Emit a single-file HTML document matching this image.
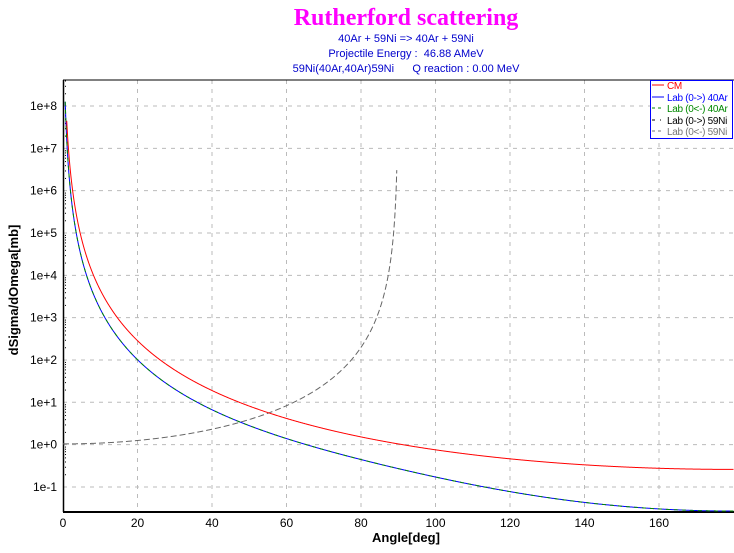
<!DOCTYPE html>
<html><head><meta charset="utf-8"><style>
body{margin:0;background:#fff;}
svg{display:block;font-family:"Liberation Sans",sans-serif;}
text{white-space:pre;}
</style></head><body>
<svg id="s" width="734" height="553" xmlns="http://www.w3.org/2000/svg">
<rect width="734" height="553" fill="#fff"/>
<text x="406" y="25" text-anchor="middle" font-family="Liberation Serif" font-weight="bold" font-size="24" fill="#ff00ff">Rutherford scattering</text>
<text x="406" y="42" text-anchor="middle" font-size="11" fill="#0000cc">40Ar + 59Ni =&gt; 40Ar + 59Ni</text>
<text x="406" y="57" text-anchor="middle" font-size="11" fill="#0000cc">Projectile Energy :  46.88 AMeV</text>
<text x="406" y="72" text-anchor="middle" font-size="11" fill="#0000cc" xml:space="preserve">59Ni(40Ar,40Ar)59Ni      Q reaction : 0.00 MeV</text>
<defs><clipPath id="c"><rect x="63" y="80" width="671" height="432"/></clipPath></defs>
<g id="grid"></g>
<line x1="63" y1="80" x2="734" y2="80" stroke="#000" stroke-width="1"/>
<line x1="63.5" y1="80" x2="63.5" y2="512" stroke="#000" stroke-width="1.5"/>
<line x1="63" y1="512" x2="734" y2="512" stroke="#000" stroke-width="2"/>
<g id="curves" clip-path="url(#c)"></g>
<text x="406" y="542" text-anchor="middle" font-weight="bold" font-size="13">Angle[deg]</text>
<text transform="translate(18,290) rotate(-90)" text-anchor="middle" font-weight="bold" font-size="13">dSigma/dOmega[mb]</text>
<g font-size="10" letter-spacing="-0.3">
<rect x="650.5" y="80.5" width="82" height="58" fill="#fff" stroke="#0000ff"/>
<line x1="652" y1="85" x2="664" y2="85" stroke="#f00"/><text x="667" y="89" fill="#f00">CM</text>
<line x1="652" y1="97" x2="664" y2="97" stroke="#00f"/><text x="667" y="101" fill="#00f">Lab (0-&gt;) 40Ar</text>
<line x1="652" y1="108" x2="664" y2="108" stroke="#080" stroke-dasharray="3,3"/><text x="667" y="112" fill="#080">Lab (0&lt;-) 40Ar</text>
<line x1="652" y1="120" x2="664" y2="120" stroke="#000" stroke-dasharray="3,5,1,3"/><text x="667" y="124" fill="#000">Lab (0-&gt;) 59Ni</text>
<line x1="652" y1="131" x2="664" y2="131" stroke="#777" stroke-dasharray="3,3"/><text x="667" y="135" fill="#777">Lab (0&lt;-) 59Ni</text>
</g>
</svg>
<script>
var NS="http://www.w3.org/2000/svg";
function X(d){return 63+d*3.725;}
function Y(v){return 106+(8-Math.log10(v))*42.33;}
function el(p,t,a,txt){var e=document.createElementNS(NS,t);for(var k in a)e.setAttribute(k,a[k]);if(txt!=null)e.textContent=txt;p.appendChild(e);return e;}
var g=document.getElementById('grid'),s=document.getElementById('s');
for(var d=0;d<=160;d+=20){ if(d>0) el(g,'line',{x1:X(d),y1:80,x2:X(d),y2:512,stroke:'#bbb','stroke-dasharray':'4,5'});
 el(s,'text',{x:X(d),y:527,'text-anchor':'middle','font-size':'12'},String(d));}
for(var k=-1;k<=8;k++){var y=Y(Math.pow(10,k));
 el(g,'line',{x1:63,y1:y,x2:734,y2:y,stroke:'#bbb','stroke-dasharray':'4,5'});
 el(s,'text',{x:57,y:y+4,'text-anchor':'end','font-size':'12'},'1e'+(k<0?'-':'+')+Math.abs(k));
 for(var m=2;m<10;m++){var yy=Y(m*Math.pow(10,k));if(yy>80&&yy<512)el(g,'rect',{x:65,y:yy,width:1,height:1,fill:'#000'});}
}
var r=40/59,A=0.26,c=document.getElementById('curves');
function sc(t){var s2=Math.sin(t/2);return A/Math.pow(s2,4);}
function path(pts,st,dash){var dd='';pts.forEach(function(p,i){dd+=(i?'L':'M')+X(p[0]).toFixed(2)+' '+Y(p[1]).toFixed(2);});
 var a={d:dd,fill:'none',stroke:st,'stroke-width':1};if(dash)a['stroke-dasharray']=dash;el(c,'path',a);}
var cm=[],lab=[],rec=[];
for(var i=10;i<=1800;i++){var tc=i/10*Math.PI/180;
 cm.push([i/10,sc(tc)]);
 var tl=Math.atan2(Math.sin(tc),Math.cos(tc)+r);
 var f=Math.pow(1+r*r+2*r*Math.cos(tc),1.5)/Math.abs(1+r*Math.cos(tc));
 lab.push([tl*180/Math.PI,sc(tc)*f]);
}
for(var i=0;i<=896;i++){var t2=i/10*Math.PI/180;var tc=Math.PI-2*t2;rec.push([i/10,sc(tc)*4*Math.cos(t2)]);}
path(rec,'#666','6,3');
path(lab,'#00f');
path(lab,'#080','4,4');
path(cm,'#f00');
</script>
</body></html>
